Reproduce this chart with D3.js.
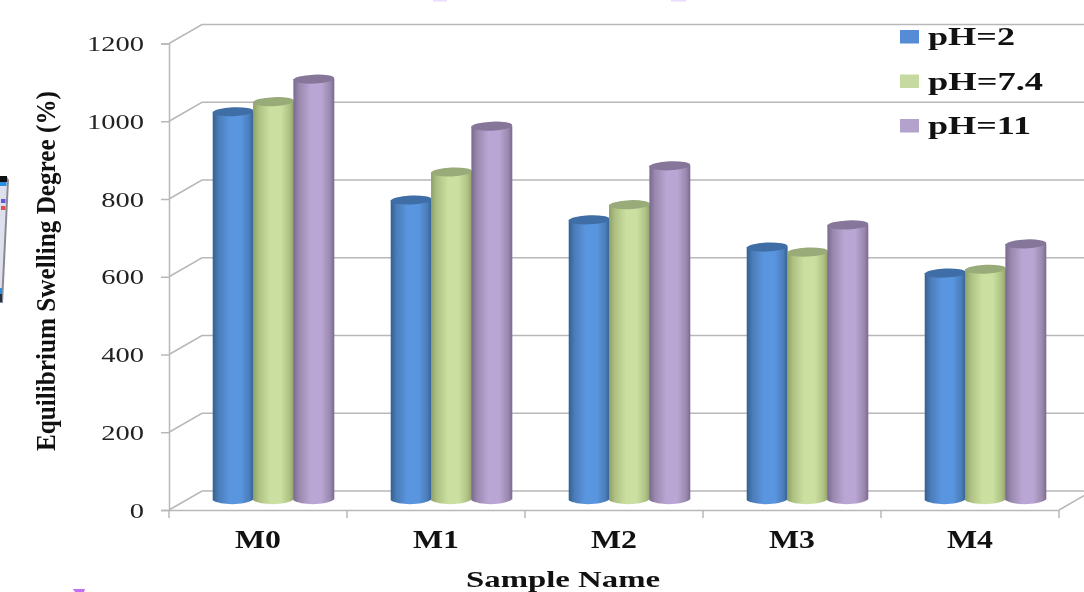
<!DOCTYPE html>
<html><head><meta charset="utf-8">
<style>html,body{margin:0;padding:0;background:#fff;overflow:hidden}svg{display:block;filter:blur(0.55px)}</style>
<script src="https://cdn.jsdelivr.net/npm/d3@7/dist/d3.min.js"></script></head>
<body><svg id="c" width="1084" height="592"></svg>
<script>
const categories = ["M0","M1","M2","M3","M4"];
const seriesNames = ["pH=2","pH=7.4","pH=11"];
const pH2 = [997,770,719,649,582];
const pH74 = [1023,842,758,636,592];
const pH11 = [1081,960,858,706,657];
const yTicks = [0,200,400,600,800,1000,1200];
const seriesValues = [pH2,pH74,pH11];
const palettes = [
 {edge:"#33608f",mid:"#5a96e0",side:"#4a7cb8",top:"#3f6ea6",key:"#568cd6"},
 {edge:"#8ea068",mid:"#cbe0a0",side:"#adc082",top:"#98ab78",key:"#c6d9a0"},
 {edge:"#7a6a90",mid:"#baa6d4",side:"#9a88ae",top:"#85769a",key:"#b3a2cc"}
];
const svg = d3.select("#c");
const W = 1084, dx = 33, dy = -19;
const x = d3.scaleBand().domain(categories).range([169,1059]);
const y = d3.scaleLinear().domain([0,1200]).range([510,43.5]);
const inner = d3.scaleBand().domain(d3.range(3)).range([-60.5,60.5]);
const grid = "#b8b8b8";

const defs = svg.append("defs");
palettes.forEach((p,i)=>{
  const g = defs.append("linearGradient").attr("id","g"+i);
  [[0,p.edge],[.14,p.side],[.42,p.mid],[.68,p.mid],[.9,p.side],[1,p.edge]].forEach(s=>
    g.append("stop").attr("offset",s[0]).attr("stop-color",s[1]));
});

// stray image fragments at the margins of the source picture
const frag = svg.append("g");
frag.append("path").attr("d","M0 177H7L9 180L3 303H0Z").attr("fill","#8a8a92");
frag.append("path").attr("d","M0 178H6L7 182L1 302H0Z").attr("fill","#dfe0ee");
frag.append("path").attr("d","M0 176H7V182H0Z").attr("fill","#111");
frag.append("path").attr("d","M0 182H6.5V186H0Z").attr("fill","#2a8fe0");
frag.append("rect").attr("x",1).attr("y",199).attr("width",4.5).attr("height",4).attr("fill","#5a5ae0");
frag.append("rect").attr("x",1).attr("y",206).attr("width",4.5).attr("height",4).attr("fill","#e05050");
frag.append("path").attr("d","M0 288H2V294H0Z").attr("fill","#2a8fe0");
frag.append("path").attr("d","M0 294H2V302H0Z").attr("fill","#234");
frag.append("rect").attr("x",433).attr("y",-2).attr("width",14).attr("height",3.5).attr("fill","#eadcfb");
frag.append("rect").attr("x",671).attr("y",-2).attr("width",15).attr("height",3.5).attr("fill","#eadcfb");
frag.append("path").attr("d","M73 589H85L84 592H75Z").attr("fill","#c070f0");

// walls and gridlines
const wall = svg.append("g").attr("fill","none").attr("stroke",grid).attr("stroke-width",1.5);
yTicks.forEach(t=>{
  wall.append("path").attr("d",`M${x.range()[0]} ${y(t)}L${x.range()[0]+dx} ${y(t)+dy}H${W}`);
});
wall.append("path").attr("d",`M${x.range()[1]} ${y(0)}L${x.range()[1]+dx} ${y(0)+dy}`);

// axes
const axL = d3.axisLeft(y).tickValues(yTicks).tickSize(8).tickPadding(17).tickFormat(d3.format("d"));
const gL = svg.append("g").attr("transform",`translate(${x.range()[0]},0)`).call(axL);
const axB = d3.axisBottom(x).tickSize(0).tickPadding(20);
const gB = svg.append("g").attr("transform",`translate(0,${y(0)})`).call(axB);
gB.selectAll(".tick line").remove();
gB.append("g").selectAll("line").data(d3.range(6)).join("line")
  .attr("x1",i=>x.range()[0]+i*x.step()).attr("x2",i=>x.range()[0]+i*x.step())
  .attr("y1",0).attr("y2",8).attr("stroke",grid).attr("stroke-width",1.5);
[gL,gB].forEach(g=>g.selectAll(".domain,.tick line").attr("stroke",grid).attr("stroke-width",1.5));
gL.selectAll("text").attr("fill","#222").attr("font-family","'Liberation Serif',serif").attr("font-size",22)
  .attr("dy","0.32em").attr("lengthAdjust","spacingAndGlyphs")
  .attr("textLength",d=>String(d).length*14.25);
gB.selectAll("text").attr("fill","#111").attr("font-family","'Liberation Serif',serif").attr("font-weight","bold")
  .attr("font-size",25).attr("lengthAdjust","spacingAndGlyphs").attr("textLength",46);

// cylinders
const base = y(0) + dy*0.56;
const offs = dx*0.47;
const ry = 4.5;
const bars = svg.append("g");
categories.forEach((c,ci)=>{
  seriesValues.forEach((vals,si)=>{
    const cx = x(c)+x.bandwidth()/2+inner(si)+inner.bandwidth()/2+offs;
    const top = base-(y(0)-y(vals[ci]));
    const w = inner.bandwidth()/2+0.3;
    const p = d3.path();
    p.moveTo(cx-w,top);
    p.lineTo(cx-w,base+1);
    p.bezierCurveTo(cx-w*.6,base+ry*1.4,cx+w*.6,base+ry*1.4,cx+w,base);
    p.lineTo(cx+w,top);
    p.closePath();
    bars.append("path").attr("d",p.toString()).attr("fill",`url(#g${si})`);
    bars.append("ellipse").attr("cx",cx).attr("cy",top).attr("rx",w).attr("ry",ry)
      .attr("transform",`rotate(-2.5 ${cx} ${top})`).attr("fill",palettes[si].top);
  });
});

// axis titles
svg.append("text").attr("x",563).attr("y",586.5).attr("text-anchor","middle")
  .attr("font-family","'Liberation Serif',serif").attr("font-weight","bold").attr("font-size",24).attr("fill","#111")
  .attr("textLength",194).attr("lengthAdjust","spacingAndGlyphs").text("Sample Name");
svg.append("text").attr("transform","translate(55,271) rotate(-90)").attr("text-anchor","middle")
  .attr("font-family","'Liberation Serif',serif").attr("font-weight","bold").attr("font-size",27).attr("fill","#111")
  .attr("textLength",360).attr("lengthAdjust","spacingAndGlyphs").text("Equilibrium Swelling Degree (%)");

// legend
const leg = svg.append("g").selectAll("g").data(seriesNames).join("g")
  .attr("transform",(d,i)=>`translate(900,${30+i*44.5})`);
leg.append("rect").attr("width",19).attr("height",13.5).attr("fill",(d,i)=>palettes[i].key);
leg.append("text").attr("x",28).attr("y",15).attr("font-family","'Liberation Serif',serif").attr("font-weight","bold")
  .attr("font-size",25).attr("fill","#111").attr("lengthAdjust","spacingAndGlyphs")
  .attr("textLength",(d,i)=>[87,115,103][i]).text(d=>d);
</script></body></html>
